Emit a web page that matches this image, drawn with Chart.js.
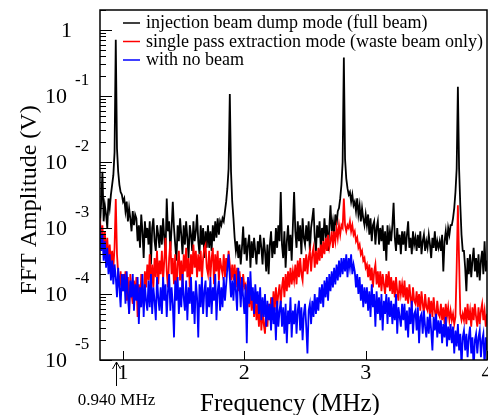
<!DOCTYPE html>
<html>
<head>
<meta charset="utf-8">
<title>FFT amplitude</title>
<script src="https://cdn.jsdelivr.net/npm/chart.js@4/dist/chart.umd.min.js"></script>
<style>
  body { margin: 0; background: #fff; }
  #fft { display: block; }
</style>
</head>
<body>
<canvas id="fft" width="488" height="415"></canvas>
<script>
/*******************  Data *********************/
// frequency bins (MHz)
const freqMHz = [
  0.81,0.82,0.83,0.84,0.85,0.86,0.87,0.88,0.89,0.90,
  0.91,0.92,0.93,0.94,0.95,0.96,0.97,0.98,0.99,1.00,
  1.01,1.02,1.03,1.04,1.05,1.06,1.07,1.08,1.09,1.10,
  1.11,1.12,1.13,1.14,1.15,1.16,1.17,1.18,1.19,1.20,
  1.21,1.22,1.23,1.24,1.25,1.26,1.27,1.28,1.29,1.30,
  1.31,1.32,1.33,1.34,1.35,1.36,1.37,1.38,1.39,1.40,
  1.41,1.42,1.43,1.44,1.45,1.46,1.47,1.48,1.49,1.50,
  1.51,1.52,1.53,1.54,1.55,1.56,1.57,1.58,1.59,1.60,
  1.61,1.62,1.63,1.64,1.65,1.66,1.67,1.68,1.69,1.70,
  1.71,1.72,1.73,1.74,1.75,1.76,1.77,1.78,1.79,1.80,
  1.81,1.82,1.83,1.84,1.85,1.86,1.87,1.88,1.89,1.90,
  1.91,1.92,1.93,1.94,1.95,1.96,1.97,1.98,1.99,2.00,
  2.01,2.02,2.03,2.04,2.05,2.06,2.07,2.08,2.09,2.10,
  2.11,2.12,2.13,2.14,2.15,2.16,2.17,2.18,2.19,2.20,
  2.21,2.22,2.23,2.24,2.25,2.26,2.27,2.28,2.29,2.30,
  2.31,2.32,2.33,2.34,2.35,2.36,2.37,2.38,2.39,2.40,
  2.41,2.42,2.43,2.44,2.45,2.46,2.47,2.48,2.49,2.50,
  2.51,2.52,2.53,2.54,2.55,2.56,2.57,2.58,2.59,2.60,
  2.61,2.62,2.63,2.64,2.65,2.66,2.67,2.68,2.69,2.70,
  2.71,2.72,2.73,2.74,2.75,2.76,2.77,2.78,2.79,2.80,
  2.81,2.82,2.83,2.84,2.85,2.86,2.87,2.88,2.89,2.90,
  2.91,2.92,2.93,2.94,2.95,2.96,2.97,2.98,2.99,3.00,
  3.01,3.02,3.03,3.04,3.05,3.06,3.07,3.08,3.09,3.10,
  3.11,3.12,3.13,3.14,3.15,3.16,3.17,3.18,3.19,3.20,
  3.21,3.22,3.23,3.24,3.25,3.26,3.27,3.28,3.29,3.30,
  3.31,3.32,3.33,3.34,3.35,3.36,3.37,3.38,3.39,3.40,
  3.41,3.42,3.43,3.44,3.45,3.46,3.47,3.48,3.49,3.50,
  3.51,3.52,3.53,3.54,3.55,3.56,3.57,3.58,3.59,3.60,
  3.61,3.62,3.63,3.64,3.65,3.66,3.67,3.68,3.69,3.70,
  3.71,3.72,3.73,3.74,3.75,3.76,3.77,3.78,3.79,3.80,
  3.81,3.82,3.83,3.84,3.85,3.86,3.87,3.88,3.89,3.90,
  3.91,3.92,3.93,3.94,3.95,3.96,3.97,3.98,3.99,4.00
];

// injection beam dump mode (full beam), V
const injectionDump = [
  1.1e-3,2.5e-3,7.1e-3,1.26e-3,2.2e-3,1.6e-3,1.0e-3,2.8e-3,2.0e-3,3.2e-3,
  4.5e-3,6.3e-3,1.4e-2,0.71,1.6e-2,7.1e-3,4.5e-3,3.5e-3,3.2e-3,2.5e-3,
  2.8e-3,1.8e-3,2.5e-3,1.26e-3,2.0e-3,1.4e-3,8.9e-4,1.8e-3,1.1e-3,1.6e-3,
  1.4e-3,6.3e-4,1.1e-3,5.0e-4,1.6e-3,8.9e-4,3.5e-4,1.26e-3,7.1e-4,1.0e-3,
  5.6e-4,1.26e-3,2.8e-4,1.0e-3,1.4e-3,6.3e-4,4.5e-4,1.1e-3,7.9e-4,5.0e-4,
  1.1e-3,5.6e-4,1.4e-3,7.1e-4,4.0e-4,2.8e-3,8.9e-4,1.26e-3,4.5e-4,1.0e-3,
  2.5e-3,1.0e-3,5.6e-4,3.2e-4,1.1e-3,6.3e-4,1.4e-3,7.9e-4,4.0e-4,1.1e-3,
  5.6e-4,1.26e-3,7.1e-4,3.5e-4,1.1e-3,7.9e-4,4.5e-4,1.26e-3,6.3e-4,8.9e-4,
  1.6e-3,6.3e-4,4.0e-4,1.1e-3,5.6e-4,1.0e-3,3.5e-4,8.9e-4,5.0e-4,1.1e-3,
  5.0e-4,8.9e-4,4.5e-4,1.1e-3,6.3e-4,1.26e-3,7.1e-4,1.4e-3,7.9e-4,1.26e-3,
  1.1e-3,1.4e-3,1.26e-3,1.8e-3,2.5e-3,4.0e-3,7.9e-3,0.107,7.1e-3,2.5e-3,
  1.4e-3,7.1e-4,4.5e-4,6.3e-4,3.5e-4,5.6e-4,2.8e-4,5.0e-4,1.05e-3,4.0e-4,
  7.1e-4,3.2e-4,5.6e-4,7.9e-4,2.5e-4,6.3e-4,3.5e-4,7.1e-4,4.5e-4,2.8e-4,
  6.3e-4,4.0e-4,7.9e-4,5.0e-4,2.8e-4,7.1e-4,4.5e-4,2.2e-4,5.6e-4,2.0e-4,
  5.6e-4,8.9e-4,3.5e-4,6.3e-4,4.0e-4,1.0e-3,5.0e-4,1.1e-3,6.3e-4,3.5e-3,
  5.6e-4,3.5e-4,8.9e-4,2.5e-4,6.3e-4,1.1e-3,4.5e-4,7.9e-4,3.2e-4,1.1e-3,
  3.5e-3,8.9e-4,5.0e-4,1.26e-3,6.3e-4,1.1e-3,4.0e-4,1.4e-3,7.1e-4,5.6e-4,
  1.1e-3,6.3e-4,1.26e-3,4.5e-4,1.0e-3,1.4e-3,2.0e-3,7.1e-4,4.5e-4,1.1e-3,
  7.1e-4,1.26e-3,5.0e-4,1.0e-3,6.3e-4,1.4e-3,7.9e-4,1.1e-3,4.5e-4,1.0e-3,
  2.2e-3,8.9e-4,1.26e-3,7.9e-4,1.6e-3,1.1e-3,1.8e-3,2.0e-3,2.8e-3,4.5e-3,
  1.0e-2,0.38,1.1e-2,5.6e-3,4.0e-3,3.2e-3,3.5e-3,2.5e-3,3.2e-3,2.2e-3,
  2.5e-3,1.8e-3,2.8e-3,1.6e-3,2.2e-3,1.26e-3,2.0e-3,1.4e-3,1.1e-3,1.6e-3,
  1.1e-3,1.6e-3,7.9e-4,1.4e-3,6.3e-4,1.1e-3,1.26e-3,5.6e-4,1.0e-3,1.26e-3,
  5.6e-4,1.0e-3,6.3e-4,1.1e-3,4.5e-4,8.9e-4,3.2e-4,1.1e-3,5.6e-4,8.9e-4,
  6.3e-4,1.1e-3,2.4e-3,7.1e-4,4.5e-4,1.0e-3,5.6e-4,7.9e-4,4.0e-4,8.9e-4,
  5.6e-4,8.9e-4,4.5e-4,7.9e-4,1.26e-3,5.0e-4,7.1e-4,4.0e-4,8.9e-4,5.6e-4,
  7.1e-4,4.5e-4,7.9e-4,5.0e-4,8.9e-4,4.0e-4,6.3e-4,7.9e-4,4.5e-4,6.3e-4,
  5.0e-4,7.9e-4,5.6e-4,3.5e-4,7.1e-4,5.0e-4,8.9e-4,4.5e-4,6.3e-4,5.0e-4,
  6.3e-4,4.5e-4,7.9e-4,2.2e-4,6.3e-4,8.9e-4,5.6e-4,1.0e-3,7.9e-4,1.1e-3,
  1.1e-3,1.4e-3,2.0e-3,3.5e-3,7.9e-3,0.138,7.9e-3,2.2e-3,7.9e-4,4.5e-4,
  4.5e-4,2.5e-4,1.1e-4,3.5e-4,2.0e-4,4.0e-4,1.8e-4,3.2e-4,5.0e-4,2.2e-4,
  3.5e-4,1.8e-4,4.0e-4,1.6e-4,3.2e-4,4.5e-4,2.0e-4,6.3e-4,2.2e-4,3.2e-4
];

// single pass extraction mode (waste beam only), V
const singlePass = [
  1.4e-3,6.3e-4,1.1e-3,4.5e-4,8.9e-4,3.5e-4,7.1e-4,3.2e-4,5.6e-4,2.8e-4,
  4.5e-4,2.5e-4,5.0e-4,2.75e-3,4.0e-4,2.0e-4,1.26e-4,2.2e-4,1.1e-4,2.0e-4,
  1.1e-4,2.2e-4,7.9e-5,1.8e-4,5.0e-5,2.0e-4,1.0e-4,7.1e-5,1.6e-4,8.9e-5,
  1.8e-4,4.5e-5,1.4e-4,6.3e-5,2.0e-4,1.0e-4,7.1e-5,2.2e-4,1.26e-4,2.8e-4,
  1.6e-4,4.0e-4,1.1e-4,2.8e-4,1.26e-4,3.5e-4,1.8e-4,4.5e-4,1.4e-4,3.2e-4,
  2.0e-4,4.5e-4,1.6e-4,3.2e-4,7.1e-4,2.2e-4,1.26e-4,3.5e-4,6.3e-4,2.0e-4,
  3.5e-4,1.4e-4,4.0e-4,1.0e-4,2.8e-4,4.5e-4,1.6e-4,3.2e-4,1.26e-4,4.0e-4,
  2.2e-4,5.0e-4,1.8e-4,3.5e-4,1.26e-4,4.0e-4,2.0e-4,5.6e-4,2.5e-4,4.5e-4,
  1.8e-4,4.0e-4,2.2e-4,4.5e-4,1.6e-4,3.5e-4,5.0e-4,5.6e-4,2.5e-4,2.0e-4,
  4.5e-4,1.8e-4,3.5e-4,5.0e-4,1.4e-4,4.0e-4,2.2e-4,4.5e-4,1.6e-4,3.5e-4,
  2.5e-4,2.0e-4,4.0e-4,1.8e-4,3.5e-4,2.2e-4,4.5e-4,2.8e-4,1.6e-4,2.8e-4,
  1.6e-4,2.8e-4,1.26e-4,2.5e-4,1.1e-4,2.2e-4,1.4e-4,1.0e-4,2.0e-4,1.26e-4,
  1.4e-4,7.9e-5,1.6e-4,6.3e-5,1.26e-4,5.6e-5,1.1e-4,4.5e-5,8.9e-5,4.0e-5,
  7.1e-5,3.2e-5,7.9e-5,2.8e-5,5.6e-5,3.5e-5,2.5e-5,6.3e-5,3.2e-5,7.1e-5,
  4.0e-5,8.9e-5,4.5e-5,1.1e-4,5.6e-5,1.26e-4,6.3e-5,1.0e-4,1.4e-4,7.1e-5,
  1.26e-4,1.8e-4,8.9e-5,2.0e-4,1.1e-4,2.2e-4,1.26e-4,2.5e-4,1.4e-4,2.2e-4,
  1.6e-4,2.8e-4,1.4e-4,3.2e-4,1.8e-4,3.5e-4,2.0e-4,1.6e-4,3.5e-4,2.2e-4,
  4.0e-4,2.0e-4,3.5e-4,4.5e-4,2.2e-4,4.0e-4,5.0e-4,2.5e-4,4.5e-4,2.8e-4,
  5.0e-4,3.2e-4,5.6e-4,3.5e-4,6.3e-4,4.0e-4,7.1e-4,4.5e-4,7.9e-4,5.0e-4,
  6.3e-4,8.9e-4,5.0e-4,8.9e-4,6.3e-4,1.0e-3,7.1e-4,1.1e-3,7.9e-4,1.1e-3,
  1.0e-3,2.8e-3,1.1e-3,8.9e-4,1.1e-3,1.0e-3,1.26e-3,8.9e-4,1.1e-3,7.9e-4,
  8.9e-4,6.3e-4,7.1e-4,5.0e-4,5.6e-4,4.0e-4,4.5e-4,3.2e-4,3.5e-4,2.5e-4,
  2.8e-4,1.8e-4,2.8e-4,1.6e-4,2.5e-4,1.26e-4,2.2e-4,2.8e-4,1.4e-4,2.2e-4,
  1.26e-4,2.2e-4,1.1e-4,2.0e-4,1.4e-4,1.0e-4,2.0e-4,1.26e-4,2.2e-4,1.1e-4,
  1.8e-4,1.0e-4,1.6e-4,8.9e-5,1.8e-4,1.1e-4,7.9e-5,1.6e-4,1.0e-4,1.4e-4,
  8.9e-5,1.6e-4,7.9e-5,1.26e-4,7.1e-5,1.4e-4,8.9e-5,6.3e-5,1.26e-4,7.9e-5,
  7.1e-5,1.1e-4,6.3e-5,1.0e-4,5.6e-5,1.1e-4,7.1e-5,5.0e-5,1.0e-4,6.3e-5,
  5.6e-5,8.9e-5,5.0e-5,7.9e-5,4.5e-5,8.9e-5,5.6e-5,4.0e-5,7.9e-5,5.0e-5,
  4.5e-5,7.1e-5,4.0e-5,6.3e-5,3.5e-5,7.1e-5,4.5e-5,6.3e-5,4.0e-5,5.6e-5,
  4.0e-5,5.0e-5,3.5e-5,4.5e-5,2.5e-4,2.2e-3,3.2e-4,5.0e-5,4.0e-5,5.0e-5,
  4.0e-5,6.3e-5,3.5e-5,7.1e-5,4.0e-5,5.6e-5,3.2e-5,6.3e-5,4.0e-5,7.1e-5,
  4.5e-5,3.2e-5,6.3e-5,3.5e-5,5.6e-5,7.1e-5,4.0e-5,5.6e-5,3.2e-5,5.0e-5
];

// with no beam, V
const noBeam = [
  1.1e-3,4.5e-4,7.9e-4,3.2e-4,6.3e-4,2.5e-4,5.0e-4,2.0e-4,4.0e-4,1.6e-4,
  3.2e-4,1.4e-4,2.8e-4,1.8e-4,8.9e-5,2.5e-4,1.26e-4,6.3e-5,2.0e-4,1.1e-4,
  2.0e-4,7.1e-5,2.2e-4,1.0e-4,5.0e-5,1.6e-4,8.9e-5,2.0e-4,5.6e-5,1.4e-4,
  7.9e-5,1.8e-4,3.5e-5,1.26e-4,6.3e-5,2.0e-4,4.5e-5,1.4e-4,7.9e-5,5.6e-5,
  1.6e-4,6.3e-5,2.0e-4,5.0e-5,1.26e-4,7.9e-5,4.0e-5,1.8e-4,8.9e-5,5.6e-5,
  1.26e-4,5.0e-5,1.8e-4,7.9e-5,1.4e-4,4.5e-5,1.1e-4,2.0e-4,5.6e-5,1.26e-4,
  7.1e-5,2.2e-5,1.6e-4,7.9e-5,1.8e-4,5.0e-5,1.26e-4,6.3e-5,2.0e-4,8.9e-5,
  5.6e-5,1.6e-4,4.0e-5,1.26e-4,7.1e-5,1.8e-4,5.0e-5,1.1e-4,3.5e-5,1.6e-4,
  8.9e-5,2.2e-5,1.4e-4,6.3e-5,1.8e-4,5.0e-5,1.1e-4,1.6e-4,4.5e-5,1.26e-4,
  6.3e-5,1.8e-4,5.0e-5,1.26e-4,7.9e-5,2.0e-4,4.0e-5,1.1e-4,1.6e-4,5.6e-5,
  1.26e-4,6.3e-5,1.8e-4,7.9e-5,1.4e-4,2.5e-4,4.0e-4,1.8e-4,8.9e-5,1.6e-4,
  7.9e-5,2.0e-4,1.1e-4,5.6e-5,2.5e-4,1.4e-4,6.3e-5,1.8e-4,8.9e-5,5.0e-5,
  1.4e-4,1.8e-5,1.8e-4,7.1e-5,2.2e-4,7.9e-5,1.26e-4,5.0e-5,1.4e-4,7.1e-5,
  1.1e-4,5.0e-5,1.26e-4,4.0e-5,8.9e-5,4.5e-5,1.0e-4,3.2e-5,7.9e-5,4.0e-5,
  7.1e-5,2.8e-5,8.9e-5,3.5e-5,6.3e-5,2.0e-5,7.9e-5,3.2e-5,5.6e-5,7.9e-5,
  3.2e-5,6.3e-5,2.5e-5,7.1e-5,1.8e-5,5.6e-5,3.5e-5,8.9e-5,2.2e-5,5.6e-5,
  3.5e-5,7.1e-5,2.5e-5,5.6e-5,7.9e-5,2.8e-5,6.3e-5,2.0e-5,5.0e-5,7.1e-5,
  3.2e-5,1.26e-5,5.6e-5,7.1e-5,3.5e-5,7.9e-5,4.5e-5,1.0e-4,5.0e-5,8.9e-5,
  5.6e-5,1.26e-4,7.1e-5,1.4e-4,6.3e-5,1.6e-4,8.9e-5,1.8e-4,7.9e-5,2.0e-4,
  1.1e-4,2.2e-4,1.26e-4,2.5e-4,1.4e-4,2.8e-4,1.6e-4,3.2e-4,1.8e-4,3.5e-4,
  2.0e-4,3.5e-4,2.2e-4,4.0e-4,1.8e-4,3.5e-4,2.5e-4,4.0e-4,2.0e-4,2.8e-4,
  2.2e-4,1.26e-4,2.0e-4,1.0e-4,1.8e-4,7.9e-5,1.4e-4,6.3e-5,1.26e-4,7.1e-5,
  1.26e-4,5.6e-5,1.1e-4,4.5e-5,1.4e-4,6.3e-5,1.0e-4,3.2e-5,1.1e-4,5.0e-5,
  8.9e-5,4.0e-5,1.0e-4,2.8e-5,7.9e-5,5.0e-5,1.0e-4,3.5e-5,8.9e-5,4.5e-5,
  7.9e-5,3.5e-5,7.1e-5,4.0e-5,1.0e-4,2.5e-5,6.3e-5,4.5e-5,3.2e-5,7.1e-5,
  4.0e-5,7.1e-5,2.8e-5,5.6e-5,2.2e-5,6.3e-5,3.5e-5,7.9e-5,2.5e-5,5.0e-5,
  5.6e-5,2.8e-5,6.3e-5,1.8e-5,4.5e-5,5.0e-5,2.5e-5,5.6e-5,3.2e-5,2.2e-5,
  4.5e-5,2.5e-5,5.0e-5,2.8e-5,1.4e-5,4.5e-5,2.8e-5,5.0e-5,2.2e-5,4.0e-5,
  2.5e-5,4.0e-5,1.8e-5,3.5e-5,2.2e-5,4.5e-5,1.6e-5,3.2e-5,2.0e-5,3.5e-5,
  1.8e-5,3.2e-5,1.26e-5,2.8e-5,1.6e-5,3.5e-5,1.4e-5,2.5e-5,7.9e-6,2.2e-5,
  2.8e-5,1.4e-5,2.5e-5,1.1e-5,2.2e-5,3.2e-5,1.26e-5,2.2e-5,7.1e-6,2.0e-5,
  2.5e-5,1.26e-5,2.2e-5,2.8e-5,1.1e-5,2.0e-5,2.5e-5,7.9e-6,2.2e-5,1.4e-5
];

const seriesLabels = [
  "injection beam dump mode (full beam)",
  "single pass extraction mode (waste beam only)",
  "with no beam"
];
const seriesColors = ["#000000", "#ff0000", "#0000ff"];

const xTickValues = [1, 2, 3, 4];          // MHz
const yDecades = [-5, -4, -3, -2, -1, 0];  // log10 of the labelled ticks
const markFreq = 0.940;                    // arrow under the axis
const markText = "0.940 MHz";

/*******************  Helpers *********************/
const serif = '"Liberation Serif", "Times New Roman", serif';

function toPoints(values) {
  return values.map((v, i) => ({ x: freqMHz[i], y: v }));
}

/*********** ROOT style frame, ticks, labels, legend *************/
const rootFrame = {
  id: 'rootFrame',
  afterDraw(chart) {
    const ctx = chart.ctx;
    const xs = chart.scales.x;
    const ys = chart.scales.y;
    const a = chart.chartArea;

    ctx.save();
    ctx.strokeStyle = '#000';
    ctx.fillStyle = '#000';

    // frame
    ctx.lineWidth = 1.5;
    ctx.strokeRect(a.left, a.top, a.right - a.left, a.bottom - a.top);

    // y ticks (inside, major + minor)
    ctx.lineWidth = 1;
    ctx.beginPath();
    yDecades.forEach(e => {
      for (let k = 1; k <= 9; k++) {
        const v = k * Math.pow(10, e);
        if (v > ys.max) break;
        const y = Math.round(ys.getPixelForValue(v)) + 0.5;
        ctx.moveTo(a.left, y);
        ctx.lineTo(a.left + (k === 1 ? 12 : 6), y);
      }
    });
    // x ticks
    xTickValues.forEach(t => {
      const x = Math.round(xs.getPixelForValue(t)) + 0.5;
      ctx.moveTo(x, a.bottom);
      ctx.lineTo(x, a.bottom - 9);
    });
    ctx.stroke();

    // y tick labels : 1, 10^-1 ... 10^-5
    ctx.textBaseline = 'middle';
    yDecades.forEach(e => {
      const y = ys.getPixelForValue(Math.pow(10, e));
      ctx.textAlign = 'right';
      ctx.font = '22px ' + serif;
      if (e === 0) {
        ctx.fillText('1', 72, y + 1);
      } else {
        ctx.fillText('10', 67, y + 1);
        ctx.textAlign = 'left';
        ctx.font = '17px ' + serif;
        ctx.fillText(String(e), 75, y - 15);
      }
    });

    // x tick labels
    ctx.textAlign = 'center';
    ctx.font = '22px ' + serif;
    xTickValues.forEach(t => {
      ctx.fillText(String(t), xs.getPixelForValue(t), a.bottom + 13);
    });

    // axis titles
    ctx.font = '25px ' + serif;
    ctx.textBaseline = 'alphabetic';
    ctx.fillText('Frequency (MHz)', 290, 411);
    ctx.save();
    ctx.translate(36, 200);
    ctx.rotate(-Math.PI / 2);
    ctx.font = '24px ' + serif;
    ctx.fillText('FFT Amplitude (V)', 0, 0);
    ctx.restore();

    // arrow at 0.940 MHz
    const mx = Math.round(xs.getPixelForValue(markFreq)) + 0.5;
    ctx.lineWidth = 1;
    ctx.beginPath();
    ctx.moveTo(mx, a.bottom + 26);
    ctx.lineTo(mx, a.bottom + 2);
    ctx.moveTo(mx - 4, a.bottom + 9);
    ctx.lineTo(mx, a.bottom + 2);
    ctx.lineTo(mx + 4, a.bottom + 9);
    ctx.stroke();
    ctx.font = '17px ' + serif;
    ctx.fillText(markText, mx, 405);

    // legend
    ctx.textAlign = 'left';
    ctx.font = '18px ' + serif;
    seriesLabels.forEach((lab, i) => {
      const y = 23 + i * 18.5;
      ctx.strokeStyle = seriesColors[i];
      ctx.lineWidth = 1.5;
      ctx.beginPath();
      ctx.moveTo(123, y);
      ctx.lineTo(140, y);
      ctx.stroke();
      ctx.fillText(lab, 146, y + 5);
    });

    ctx.restore();
  }
};

/*******************  Chart *********************/
const fftCanvas = document.getElementById('fft');

const fftChart = new Chart(fftCanvas, {
  type: 'line',
  data: {
    datasets: [
      { label: seriesLabels[0], data: toPoints(injectionDump), borderColor: seriesColors[0], order: 3 },
      { label: seriesLabels[1], data: toPoints(singlePass), borderColor: seriesColors[1], order: 2 },
      { label: seriesLabels[2], data: toPoints(noBeam), borderColor: seriesColors[2], order: 1 }
    ]
  },
  options: {
    responsive: false,
    devicePixelRatio: 1,
    animation: false,
    layout: { padding: { left: 100, top: 10, right: 1, bottom: 55 } },
    elements: {
      line: { borderWidth: 1.8, tension: 0 },
      point: { radius: 0, hoverRadius: 0 }
    },
    scales: {
      x: { type: 'linear', min: 0.81, max: 4.0, display: false },
      y: { type: 'logarithmic', min: 1e-5, max: 2.0, display: false }
    },
    plugins: {
      legend: { display: false },
      tooltip: { enabled: false }
    }
  },
  plugins: [rootFrame]
});
</script>
</body>
</html>
